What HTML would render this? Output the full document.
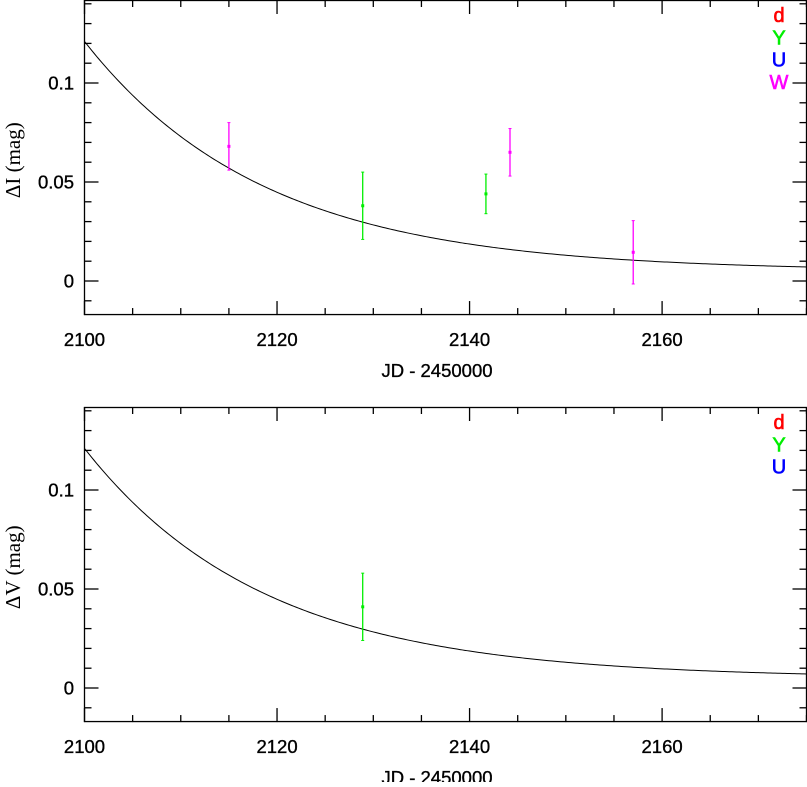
<!DOCTYPE html>
<html><head><meta charset="utf-8"><style>
body{margin:0;background:#fff}
svg text{font-family:"Liberation Sans",Arial,sans-serif}
</style></head><body>
<svg id="chart" width="807" height="782" xmlns="http://www.w3.org/2000/svg"></svg>
<script>
const xTicksMajor = [2100, 2120, 2140, 2160];
const yTicksMajor = [0, 0.05, 0.1];
const yTickLabels = ["0", "0.05", "0.1"];
const topJD = [2115.0, 2128.9, 2141.7, 2144.2, 2157.0];
const topVal = [0.068, 0.038, 0.044, 0.065, 0.0145];
const topErr = [0.012, 0.017, 0.010, 0.012, 0.016];
const topBand = ["W", "Y", "Y", "W", "W"];
const botJD = [2128.9];
const botVal = [0.041];
const botErr = [0.017];
const botBand = ["Y"];
const modelC = 0.005, modelA = 0.116, modelTau = 18.7;
const bandColors = {d:"#ff0000", Y:"#00ee00", U:"#0000ff", W:"#ff00ff"};

const svg = document.getElementById('chart');
const NS = "http://www.w3.org/2000/svg";
function mk(tag, attrs, parent){const e=document.createElementNS(NS,tag);for(const k in attrs)e.setAttribute(k,attrs[k]);(parent||svg).appendChild(e);return e;}
const X0=84.5, X1=806.5, xmin=2100, xmax=2175;
function xs(v){return X0+(v-xmin)/(xmax-xmin)*(X1-X0);}

function panel(top, zeroY, jd, val, err, band, legend, ytitle, pname){
  const g=mk('g',{});
  
  
  const ys=v=>zeroY-v*1980;
  const bottom=zeroY+0.0172*1980;
  const fr=mk('rect',{x:X0,y:top+0.5,width:X1-X0,height:bottom-top-1,fill:'none',stroke:'#000','stroke-width':1.3},g);
  
  
  for(let v=xmin; v<=xmax; v+=5){
    const L = (v%20===0)?14:7, x=xs(v);
    const t1=mk('line',{x1:x,x2:x,y1:bottom,y2:bottom-L,stroke:'#000','stroke-width':1.3},g);
    
    
    const t2=mk('line',{x1:x,x2:x,y1:top,y2:top+L,stroke:'#000','stroke-width':1.3},g);
    
    
  }
  xTicksMajor.forEach(v=>{
    const t=mk('text',{x:xs(v),y:bottom+31,'font-size':18.5,'text-anchor':'middle','stroke':'#000','stroke-width':0.35},g);
    t.textContent=v;
    
    
  });
  for(let i=-1;i<=14;i++){
    const v=i/100, y=ys(v); if(y<top||y>bottom) continue;
    const L=(i%5===0)?14:7;
    const a=mk('line',{x1:X0,x2:X0+L,y1:y,y2:y,stroke:'#000','stroke-width':1.3},g);
    
    
    const b=mk('line',{x1:X1,x2:X1-L,y1:y,y2:y,stroke:'#000','stroke-width':1.3},g);
    
    
  }
  yTicksMajor.forEach((v,i)=>{
    const t=mk('text',{x:74,y:ys(v)+6.5,'font-size':18.5,'text-anchor':'end','stroke':'#000','stroke-width':0.35},g);
    t.textContent=yTickLabels[i];
    
    
  });
  const xt=mk('text',{x:437,y:bottom+62,'font-size':18.5,'text-anchor':'middle','stroke':'#000','stroke-width':0.35},g);
  xt.textContent='JD - 2450000';
  
  
  const yt=mk('text',{x:0,y:0,'font-size':21,'text-anchor':'middle','transform':`translate(20,${ys(0.061)}) rotate(-90)`,style:'font-family:"Liberation Serif",serif'},g);
  yt.textContent=ytitle;
  
  
  let d='';
  for(let v=xmin; v<=xmax; v+=0.25){
    const m=modelC+modelA*Math.exp(-(v-xmin)/modelTau);
    d+=(d?'L':'M')+xs(v).toFixed(2)+','+ys(m).toFixed(2);
  }
  const c=mk('path',{d:d,fill:'none',stroke:'#000','stroke-width':1},g);
  
  
  jd.forEach((t,i)=>{
    const col=bandColors[band[i]], x=xs(t);
    const pg=mk('g',{},g);
    
    
    mk('line',{x1:x,x2:x,y1:ys(val[i]+err[i]),y2:ys(val[i]-err[i]),stroke:col,'stroke-width':1.3},pg);
    mk('line',{x1:x-1.5,x2:x+1.5,y1:ys(val[i]+err[i]),y2:ys(val[i]+err[i]),stroke:col,'stroke-width':1},pg);
    mk('line',{x1:x-1.5,x2:x+1.5,y1:ys(val[i]-err[i]),y2:ys(val[i]-err[i]),stroke:col,'stroke-width':1},pg);
    mk('rect',{x:x-1.5,y:ys(val[i])-1.5,width:3,height:3,fill:col},pg);
  });
  legend.forEach((b,i)=>{
    const t=mk('text',{x:779,y:top+22+i*22.3,'font-size':20,'text-anchor':'middle',fill:bandColors[b],stroke:bandColors[b],'stroke-width':0.6},g);
    t.textContent=b;
    
    
  });
}
panel(0, 281, topJD, topVal, topErr, topBand, ["d","Y","U","W"], "ΔI (mag)", "top-panel-delta-I");
panel(407, 688, botJD, botVal, botErr, botBand, ["d","Y","U"], "ΔV (mag)", "bottom-panel-delta-V");
</script>
</body></html>
